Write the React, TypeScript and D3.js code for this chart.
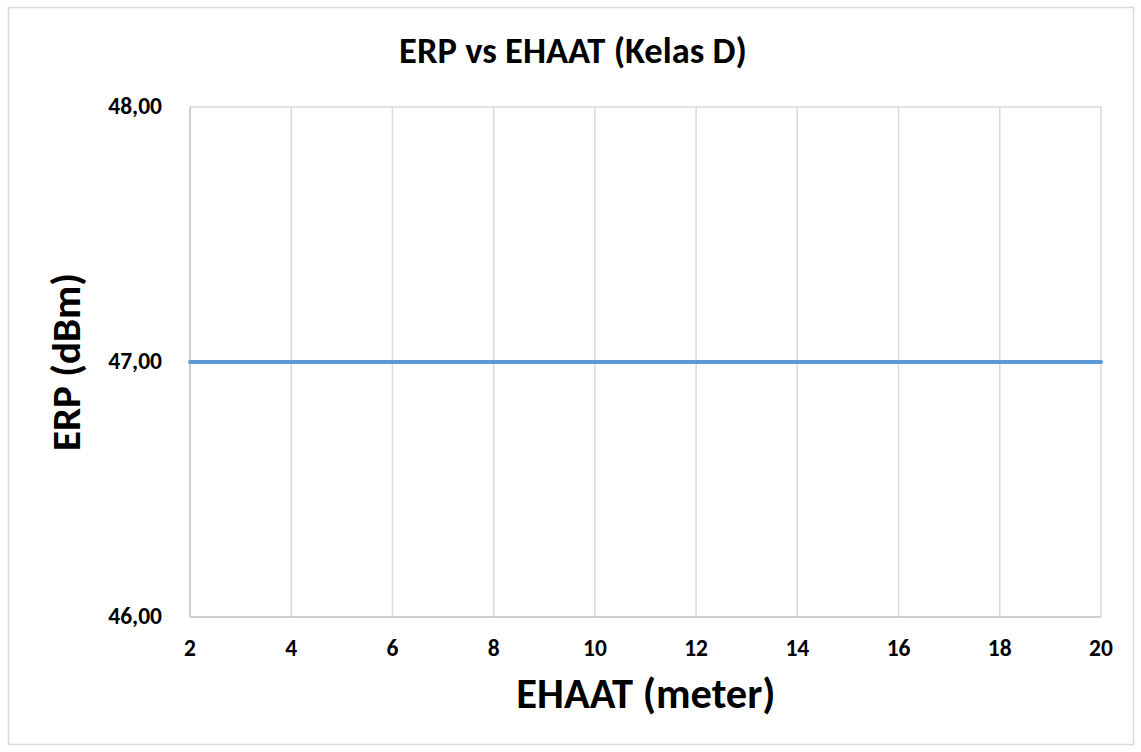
import React, { useEffect, useRef } from 'react';
import * as d3 from 'd3';

const ehaat: number[] = [2, 4, 6, 8, 10, 12, 14, 16, 18, 20];
const erp: number[] = [47, 47, 47, 47, 47, 47, 47, 47, 47, 47];
const yTicks: number[] = [46, 47, 48];
const xTicks: number[] = [2, 4, 6, 8, 10, 12, 14, 16, 18, 20];

const W = 1141;
const H = 752;
const FONT = "Carlito, Lato, 'Open Sans', 'Noto Sans', sans-serif";

const App: React.FC = () => {
  const ref = useRef<SVGSVGElement>(null);

  useEffect(() => {
    const svg = d3.select(ref.current);
    svg.selectAll('*').remove();

    const plot = { left: 190, right: 1101, top: 107, bottom: 617 };
    const x = d3.scaleLinear().domain([2, 20]).range([plot.left, plot.right]);
    const y = d3.scaleLinear().domain([46, 48]).range([plot.bottom, plot.top]);

    svg
      .append('rect')
      .attr('x', 8.5)
      .attr('y', 7.5)
      .attr('width', 1125)
      .attr('height', 737)
      .attr('fill', '#fff')
      .attr('stroke', '#d9d9d9')
      .attr('stroke-width', 1.5);

    // gridlines
    const grid = svg.append('g').attr('stroke', '#d9d9d9').attr('stroke-width', 1.5);
    xTicks.slice(1).forEach((t) => {
      grid
        .append('line')
        .attr('x1', x(t))
        .attr('x2', x(t))
        .attr('y1', plot.top)
        .attr('y2', plot.bottom);
    });
    yTicks.slice(1).forEach((t) => {
      grid
        .append('line')
        .attr('x1', plot.left)
        .attr('x2', plot.right)
        .attr('y1', y(t))
        .attr('y2', y(t));
    });

    // axis lines
    const axes = svg.append('g').attr('stroke', '#bfbfbf').attr('stroke-width', 1.5);
    axes.append('line').attr('x1', plot.left).attr('x2', plot.left).attr('y1', plot.top).attr('y2', plot.bottom);
    axes.append('line').attr('x1', plot.left).attr('x2', plot.right).attr('y1', plot.bottom).attr('y2', plot.bottom);

    // tick labels
    svg
      .append('g')
      .selectAll('text')
      .data(yTicks)
      .join('text')
      .attr('x', 162)
      .attr('y', (d) => y(d) + 7)
      .attr('text-anchor', 'end')
      .attr('font-family', FONT)
      .attr('font-weight', 'bold')
      .attr('font-size', 23.5)
      .attr('fill', '#000')
      .text((d) => d.toFixed(2).replace('.', ','));

    svg
      .append('g')
      .selectAll('text')
      .data(xTicks)
      .join('text')
      .attr('x', (d) => x(d))
      .attr('y', 656)
      .attr('text-anchor', 'middle')
      .attr('font-family', FONT)
      .attr('font-weight', 'bold')
      .attr('font-size', 23.5)
      .attr('fill', '#000')
      .text((d) => String(d));

    // series
    const line = d3
      .line<number>()
      .x((_, i) => x(ehaat[i]))
      .y((d) => y(d));
    svg
      .append('path')
      .datum(erp)
      .attr('d', line)
      .attr('fill', 'none')
      .attr('stroke', '#5b9bd5')
      .attr('stroke-width', 4)
      .attr('stroke-linecap', 'round');

    // titles
    svg
      .append('text')
      .attr('x', 573)
      .attr('y', 63)
      .attr('text-anchor', 'middle')
      .attr('font-family', FONT)
      .attr('font-weight', 'bold')
      .attr('font-size', 36.5)
      .text('ERP vs EHAAT (Kelas D)');

    svg
      .append('text')
      .attr('x', 646)
      .attr('y', 708)
      .attr('text-anchor', 'middle')
      .attr('font-family', FONT)
      .attr('font-weight', 'bold')
      .attr('font-size', 42.5)
      .text('EHAAT (meter)');

    svg
      .append('text')
      .attr('transform', `translate(80,362) rotate(-90)`)
      .attr('text-anchor', 'middle')
      .attr('font-family', FONT)
      .attr('font-weight', 'bold')
      .attr('font-size', 41)
      .text('ERP (dBm)');
  }, []);

  return (
    <svg
      ref={ref}
      width={W}
      height={H}
      style={{ position: 'absolute', left: 0, top: 0, background: '#fff' }}
    />
  );
};

export default App;
